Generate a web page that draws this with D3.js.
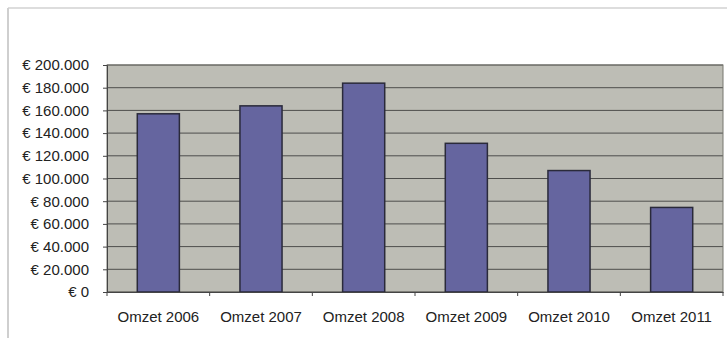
<!DOCTYPE html>
<html>
<head>
<meta charset="utf-8">
<script src="https://cdn.jsdelivr.net/npm/d3@7"></script>
<style>
  body { margin: 0; background: #fff; }
  svg { display: block; }
  .tick text { font-family: "Liberation Sans", Arial, sans-serif; font-size: 15px; fill: #222; }
</style>
</head>
<body>
<div id="chart"></div>
<script>
var categories = ['Omzet 2006', 'Omzet 2007', 'Omzet 2008', 'Omzet 2009', 'Omzet 2010', 'Omzet 2011'];
var omzet = [157000, 164000, 184000, 131000, 107000, 74500];
var yTicks = [0, 20000, 40000, 60000, 80000, 100000, 120000, 140000, 160000, 180000, 200000];

var width = 727;
var height = 338;
var margin = { top: 65, right: 4, bottom: 46, left: 107 };
var w = width - margin.left - margin.right;
var h = height - margin.top - margin.bottom;

var svg = d3.select('#chart').append('svg')
    .attr('width', width)
    .attr('height', height);

// outer chart frame (scanned, only top and left visible)
svg.append('line')
    .attr('x1', 8).attr('x2', width).attr('y1', 8).attr('y2', 8)
    .style('stroke', '#d2d2d2').style('stroke-width', 1.5);
svg.append('line')
    .attr('x1', 8).attr('x2', 8).attr('y1', 8).attr('y2', height)
    .style('stroke', '#cfcfcf').style('stroke-width', 2);

var g = svg.append('g')
    .attr('transform', 'translate(' + margin.left + ',' + margin.top + ')');

var x = d3.scaleBand().domain(categories).range([0, w])
    .paddingInner(0.59).paddingOuter(0.295);
var y = d3.scaleLinear().domain([0, 200000]).range([h, 0]);

g.append('rect')
    .attr('width', w).attr('height', h)
    .style('fill', '#bdbdb5');

g.selectAll('.grid')
    .data(yTicks)
  .enter().append('line')
    .attr('class', 'grid')
    .attr('x1', 0).attr('x2', w)
    .attr('y1', function(d) { return y(d); })
    .attr('y2', function(d) { return y(d); })
    .style('stroke', '#4e4e4c').style('stroke-width', 1);

g.append('rect')
    .attr('width', w).attr('height', h)
    .style('fill', 'none').style('stroke', '#77776f');

g.selectAll('.bar')
    .data(omzet)
  .enter().append('rect')
    .attr('class', 'bar')
    .attr('x', function(d, i) { return x(categories[i]); })
    .attr('y', function(d) { return y(d); })
    .attr('width', x.bandwidth())
    .attr('height', function(d) { return h - y(d); })
    .style('fill', '#65659f')
    .style('stroke', '#2a2a3a').style('stroke-width', 1.5);

var fmt = function(d) { return '€ ' + d3.format(',')(d).replace(/,/g, '.'); };

var yAxis = g.append('g')
    .call(d3.axisLeft(y).tickValues(yTicks).tickFormat(fmt).tickSize(4).tickPadding(14));
yAxis.select('.domain').style('stroke', '#444');
yAxis.selectAll('.tick line').style('stroke', '#444');

var xAxis = g.append('g')
    .attr('transform', 'translate(0,' + h + ')')
    .call(d3.axisBottom(x).tickSize(0).tickPadding(19));
xAxis.select('.domain').style('stroke', '#444');

// ticks between categories
g.selectAll('.xsep')
    .data(d3.range(categories.length + 1))
  .enter().append('line')
    .attr('x1', function(i) { return i * x.step(); })
    .attr('x2', function(i) { return i * x.step(); })
    .attr('y1', h).attr('y2', h + 4)
    .style('stroke', '#444');
</script>
</body>
</html>
